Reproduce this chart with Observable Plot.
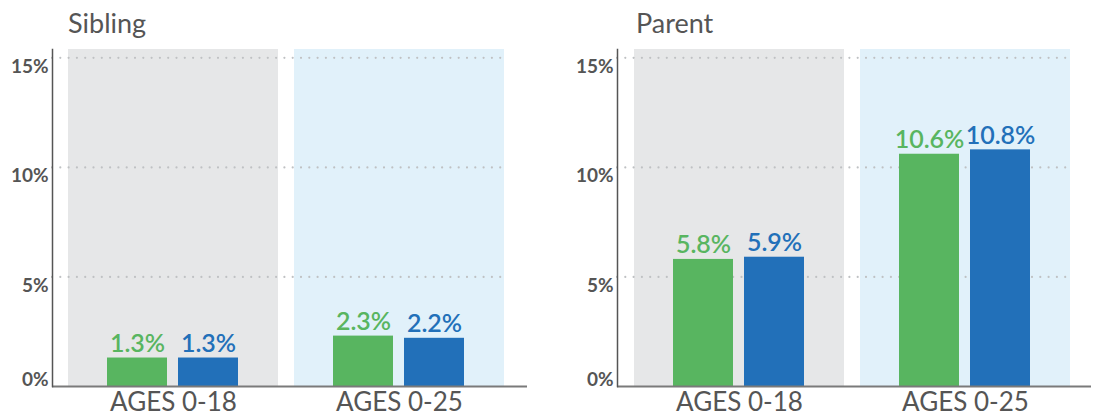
<!DOCTYPE html>
<html><head><meta charset="utf-8">
<script src="https://cdn.jsdelivr.net/npm/d3@7"></script>
<script src="https://cdn.jsdelivr.net/npm/@observablehq/plot@0.6"></script>
<style>
body{margin:0;background:#fff;font-family:Lato,"Open Sans",sans-serif;}
#wrap{display:flex;width:1094px;height:416px;overflow:hidden;}
.panel{position:relative;flex:none;}
.title{position:absolute;top:9px;font-size:27px;line-height:27px;color:#555;}
.panel svg{display:block;margin-top:44px;overflow:visible;}
</style></head><body><div id="wrap"></div>
<script>
// ---- data ----
const panelTitles = ["Sibling", "Parent"];
const ageGroups = ["AGES 0-18", "AGES 0-25"];
const seriesNames = ["Group A", "Group B"];
const siblingA = [1.3, 2.3];
const siblingB = [1.3, 2.2];
const parentA = [5.8, 10.6];
const parentB = [5.9, 10.8];
const yTicks = [0, 5, 10, 15];

// ---- styles ----
const GREEN = "#58b560", BLUE = "#2270b9";
const BG = ["#e6e7e8", "#e1f1fa"];
const yTop = 15.38;

function rows(values, s) {
  return ageGroups.map((g, i) => ({age: g, series: s, value: values[i]}));
}

const panels = [
  {title: panelTitles[0], a: rows(siblingA, seriesNames[0]), b: rows(siblingB, seriesNames[1]), width: 565, marginRight: 38, xRange: [68, 504], titleLeft: 68, gridInset: 23},
  {title: panelTitles[1], a: rows(parentA, seriesNames[0]), b: rows(parentB, seriesNames[1]), width: 529, marginRight: 3, xRange: [69, 505], titleLeft: 71, gridInset: 21}
];

const wrap = document.getElementById("wrap");
for (const p of panels) {
  const div = document.createElement("div");
  div.className = "panel";
  div.style.width = p.width + "px";
  const t = document.createElement("div");
  t.className = "title";
  t.style.left = p.titleLeft + "px";
  t.textContent = p.title;
  div.appendChild(t);

  const labelOpts = {x: "age", y: "value", text: d => d.value.toFixed(1) + "%", fill: "series", lineAnchor: "bottom", dy: -6, fontSize: 25, fontWeight: 600};
  const tickOpts = {tickSize: 0, tickPadding: 4, tickFormat: d => d + "%", fontSize: 19, fontWeight: "bold", fill: "#555", label: null};

  const chart = Plot.plot({
    width: p.width,
    height: 372,
    marginLeft: 52,
    marginRight: p.marginRight,
    marginTop: 5,
    marginBottom: 30,
    style: {fontFamily: "Lato, 'Open Sans', sans-serif", background: "transparent", overflow: "visible"},
    x: {domain: ageGroups, range: p.xRange, paddingInner: 0.0708, paddingOuter: 0, axis: null, label: null},
    y: {domain: [0, yTop], axis: null, label: null},
    color: {domain: seriesNames, range: [GREEN, BLUE]},
    marks: [
      Plot.barY([ageGroups[0]], {x: d => d, y1: 0, y2: yTop, fill: BG[0]}),
      Plot.barY([ageGroups[1]], {x: d => d, y1: 0, y2: yTop, fill: BG[1]}),
      Plot.gridY(yTicks.slice(1), {stroke: "#bfc1c3", strokeOpacity: 1, strokeWidth: 2.2, strokeDasharray: "0,8.3", strokeLinecap: "round", insetRight: p.gridInset}),
      Plot.barY(p.a, {x: "age", y: "value", fill: "series", insetLeft: 39, insetRight: 111}),
      Plot.barY(p.b, {x: "age", y: "value", fill: "series", insetLeft: 110, insetRight: 40}),
      Plot.text(p.a, {...labelOpts, dx: -36}),
      Plot.text(p.b, {...labelOpts, dx: 35}),
      Plot.ruleY([0], {stroke: "#7a7a7a", strokeWidth: 2}),
      Plot.frame({anchor: "left", stroke: "#555", strokeWidth: 1.5}),
      Plot.axisY(yTicks.slice(1), {...tickOpts, dy: 9}),
      Plot.axisY([0], {...tickOpts, dy: -6.5}),
      Plot.axisX({anchor: "bottom", tickSize: 0, tickPadding: 6, fontSize: 26, fill: "#555", label: null})
    ]
  });
  div.appendChild(chart);
  wrap.appendChild(div);
}
</script>
</body></html>
